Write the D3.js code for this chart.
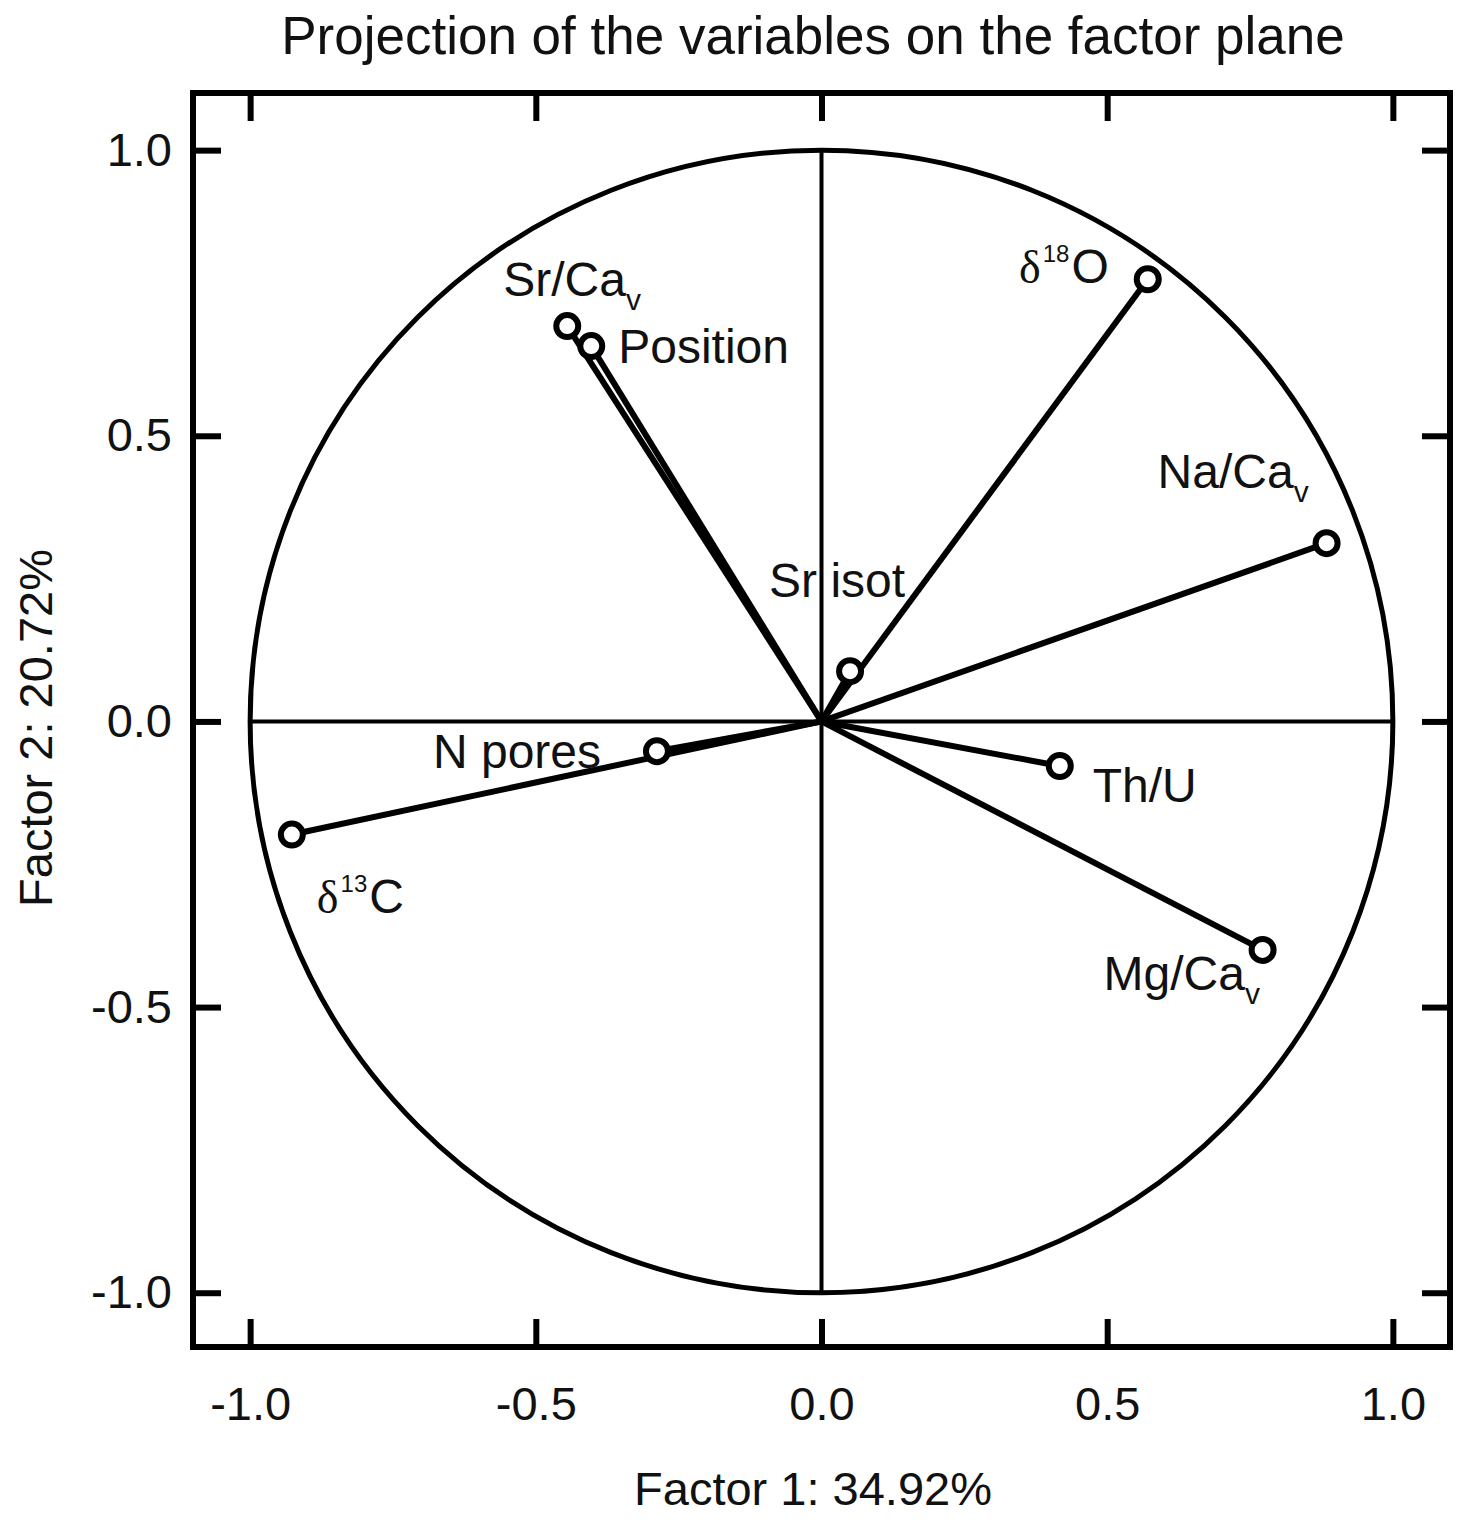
<!DOCTYPE html>
<html>
<head>
<meta charset="utf-8">
<script src="https://cdn.jsdelivr.net/npm/d3@7"></script>
<style>
    body { margin: 0; background: white; }
    svg { display: block; font-family: "Liberation Sans", Arial, sans-serif; }
</style>
</head>
<body>
<svg width="1461" height="1522"></svg>
<script>
// Variables projected on factor 1 / factor 2
var variableNames = ["δ^18O", "Sr/Ca_v", "Position", "Na/Ca_v", "Sr isot", "N pores", "δ^13C", "Th/U", "Mg/Ca_v"];
var factor1 = [0.571, -0.445, -0.403, 0.884, 0.050, -0.288, -0.927, 0.417, 0.772];
var factor2 = [0.774, 0.692, 0.657, 0.312, 0.088, -0.052, -0.198, -0.078, -0.400];

var tickValues = [-1.0, -0.5, 0.0, 0.5, 1.0];
var chartTitle = "Projection of the variables on the factor plane";
var xTitle = "Factor 1: 34.92%";
var yTitle = "Factor 2: 20.72%";

// label placement, pixels from the point
var labelOffsets = [
    { dx: -39, dy: 4, anchor: "end" },
    { dx: -64, dy: -30, anchor: "start" },
    { dx: 27, dy: 17, anchor: "start" },
    { dx: -169, dy: -55, anchor: "start" },
    { dx: -81, dy: -74, anchor: "start" },
    { dx: -224, dy: 17, anchor: "start" },
    { dx: 25, dy: 78, anchor: "start" },
    { dx: 33, dy: 36, anchor: "start" },
    { dx: -159, dy: 40, anchor: "start" },
];

var xScale = d3.scaleLinear().domain([-1.1, 1.1]).range([193, 1450]);
var yScale = d3.scaleLinear().domain([-1.095, 1.1]).range([1347, 93]);

var svg = d3.select("svg");

// Axes with inward ticks on all four sides
svg.append("g")
    .attr("transform", "translate(0," + yScale.range()[0] + ")")
    .call(d3.axisBottom(xScale).tickValues(tickValues).tickFormat(d3.format(".1f")).tickSize(-28).tickPadding(40))
    .call(g => g.selectAll("text").attr("font-size", 47).attr("font-family", null).attr("fill", "#111"));

svg.append("g")
    .attr("transform", "translate(0," + yScale.range()[1] + ")")
    .call(d3.axisTop(xScale).tickValues(tickValues).tickFormat("").tickSize(-28));

svg.append("g")
    .attr("transform", "translate(" + xScale.range()[0] + ",0)")
    .call(d3.axisLeft(yScale).tickValues(tickValues).tickFormat(d3.format(".1f")).tickSize(-28).tickPadding(21))
    .call(g => g.selectAll("text").attr("font-size", 47).attr("font-family", null).attr("fill", "#111"));

svg.append("g")
    .attr("transform", "translate(" + xScale.range()[1] + ",0)")
    .call(d3.axisRight(yScale).tickValues(tickValues).tickFormat("").tickSize(-28));

svg.selectAll(".domain").remove();
svg.selectAll(".tick line").attr("stroke", "black").attr("stroke-width", 6);
// d3 formats negatives with a unicode minus, the chart uses a hyphen
svg.selectAll(".tick text").text(function () { return this.textContent.replace("−", "-"); });

// Frame
svg.append("rect")
    .attr("x", xScale.range()[0])
    .attr("y", yScale.range()[1])
    .attr("width", xScale.range()[1] - xScale.range()[0])
    .attr("height", yScale.range()[0] - yScale.range()[1])
    .attr("fill", "none")
    .attr("stroke", "black")
    .attr("stroke-width", 6);

// Unit circle
svg.append("ellipse")
    .attr("cx", xScale(0))
    .attr("cy", yScale(0))
    .attr("rx", xScale(1) - xScale(0))
    .attr("ry", yScale(0) - yScale(1))
    .attr("fill", "none")
    .attr("stroke", "black")
    .attr("stroke-width", 5);

// Cross through the origin
svg.append("line")
    .attr("x1", xScale(-1)).attr("x2", xScale(1))
    .attr("y1", yScale(0)).attr("y2", yScale(0))
    .attr("stroke", "black").attr("stroke-width", 4);

svg.append("line")
    .attr("x1", xScale(0)).attr("x2", xScale(0))
    .attr("y1", yScale(1)).attr("y2", yScale(-1))
    .attr("stroke", "black").attr("stroke-width", 4);

var points = variableNames.map((name, i) => ({ name: name, x: factor1[i], y: factor2[i], off: labelOffsets[i] }));

// Vectors
svg.selectAll("line.vector")
    .data(points)
    .enter()
    .append("line")
    .attr("class", "vector")
    .attr("x1", xScale(0))
    .attr("y1", yScale(0))
    .attr("x2", d => xScale(d.x))
    .attr("y2", d => yScale(d.y))
    .attr("stroke", "black")
    .attr("stroke-width", 6);

svg.selectAll("circle.point")
    .data(points)
    .enter()
    .append("circle")
    .attr("class", "point")
    .attr("cx", d => xScale(d.x))
    .attr("cy", d => yScale(d.y))
    .attr("r", 11)
    .attr("fill", "white")
    .attr("stroke", "black")
    .attr("stroke-width", 6);

// Labels: "^" marks a superscript, "_" a subscript
function addLabel(d) {
    var text = d3.select(this)
        .attr("x", xScale(d.x) + d.off.dx)
        .attr("y", yScale(d.y) + d.off.dy)
        .attr("text-anchor", d.off.anchor)
        .attr("font-size", 48)
        .attr("fill", "#111");

    var name = d.name;
    if (name.indexOf("^") >= 0) {
        var parts = name.split("^");
        var sup = parts[1].match(/^\d+/)[0];
        var rest = parts[1].slice(sup.length);
        text.append("tspan").attr("font-family", "Liberation Serif").attr("font-size", 46).text(parts[0]);
        text.append("tspan").attr("font-size", 24).attr("dy", -21).attr("dx", 2).text(sup);
        text.append("tspan").attr("dy", 21).attr("dx", 2).text(rest);
    } else if (name.indexOf("_") >= 0) {
        var sub = name.split("_");
        text.append("tspan").text(sub[0]);
        text.append("tspan").attr("font-size", 30).attr("dy", 14).text(sub[1]);
    } else {
        text.text(name);
    }
}

svg.selectAll("text.label")
    .data(points)
    .enter()
    .append("text")
    .attr("class", "label")
    .each(addLabel);

// Titles
svg.append("text")
    .attr("x", 813)
    .attr("y", 54)
    .attr("text-anchor", "middle")
    .attr("font-size", 53)
    .attr("fill", "#111")
    .text(chartTitle);

svg.append("text")
    .attr("x", 813)
    .attr("y", 1505)
    .attr("text-anchor", "middle")
    .attr("font-size", 47)
    .attr("fill", "#111")
    .text(xTitle);

svg.append("text")
    .attr("transform", "translate(52,728) rotate(-90)")
    .attr("text-anchor", "middle")
    .attr("font-size", 47)
    .attr("fill", "#111")
    .text(yTitle);
</script>
</body>
</html>
